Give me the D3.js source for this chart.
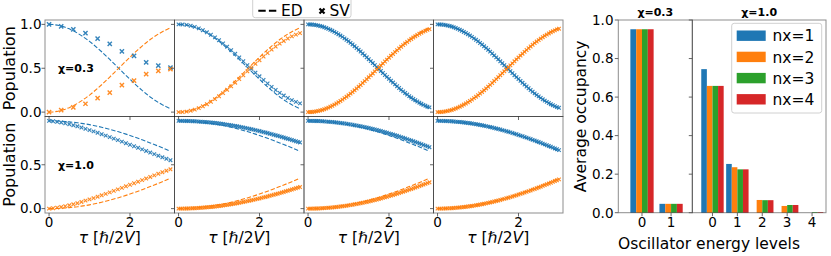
<!DOCTYPE html>
<html><head><meta charset="utf-8">
<script src="https://cdn.jsdelivr.net/npm/d3@7"></script>
<style>
body{margin:0;background:#fff}
text{font-family:"DejaVu Sans",sans-serif;fill:#000}
</style>
</head><body>
<svg id="c" width="831" height="256"></svg>
<script>
// ---------------- DATA ----------------
const tauCoarse = [0,0.3,0.6,0.9,1.2,1.5,1.8,2.1,2.4,2.7,3.0];
const tauMid = [0,0.1,0.2,0.3,0.4,0.5,0.6,0.7,0.8,0.9,1.0,1.1,1.2,1.3,1.4,1.5,1.6,1.7,1.8,1.9,2.0,2.1,2.2,2.3,2.4,2.5,2.6,2.7,2.8,2.9,3.0];
const tauFine = [0,0.05,0.1,0.15,0.2,0.25,0.3,0.35,0.4,0.45,0.5,0.55,0.6,0.65,0.7,0.75,0.8,0.85,0.9,0.95,1,1.05,1.1,1.15,1.2,1.25,1.3,1.35,1.4,1.45,1.5,1.55,1.6,1.65,1.7,1.75,1.8,1.85,1.9,1.95,2,2.05,2.1,2.15,2.2,2.25,2.3,2.35,2.4,2.45,2.5,2.55,2.6,2.65,2.7,2.75,2.8,2.85,2.9,2.95,3];

// chi = 0.3
const edBlue03 = [1.000,.998,.992,.981,.967,.949,.927,.901,.872,.840,.806,.769,.729,.688,.644,.600,.555,.509,.464,.418,.374,.330,.288,.247,.209,.173,.140,.110,.083,.060,.040];
const edOrange03 = [.000,.002,.008,.019,.033,.051,.073,.099,.128,.160,.194,.231,.271,.312,.356,.400,.445,.491,.536,.582,.626,.670,.712,.753,.791,.827,.860,.890,.917,.940,.960];
const sv1Blue03 = [1.000,.977,.943,.901,.837,.777,.693,.640,.568,.530,.508];
const sv1Orange03 = [.000,.023,.053,.095,.159,.223,.307,.360,.432,.470,.489];
const sv2Blue03 = [1.000,.999,.994,.984,.972,.955,.934,.910,.882,.852,.820,.784,.746,.707,.665,.623,.580,.536,.493,.449,.408,.366,.326,.288,.252,.219,.189,.161,.137,.117,.100];
const sv2Orange03 = [.000,.001,.006,.016,.028,.045,.066,.090,.118,.148,.180,.216,.254,.293,.335,.377,.420,.464,.507,.551,.592,.634,.674,.712,.748,.781,.811,.839,.863,.883,.900];
const sv3Blue03 = [1.000,.999,.998,.995,.992,.987,.981,.975,.967,.958,.949,.938,.928,.915,.902,.888,.873,.858,.841,.824,.808,.789,.771,.751,.731,.710,.691,.669,.647,.625,.603,.581,.559,.536,.513,.491,.469,.446,.423,.402,.380,.358,.337,.316,.295,.275,.255,.236,.218,.200,.182,.166,.150,.136,.121,.107,.095,.083,.073,.062,.054];
const sv3Orange03 = [.000,.001,.002,.005,.008,.013,.019,.025,.033,.042,.051,.062,.072,.085,.098,.112,.127,.142,.159,.176,.192,.211,.229,.249,.269,.290,.309,.331,.353,.375,.397,.419,.441,.464,.487,.509,.531,.554,.577,.598,.620,.642,.663,.684,.705,.725,.745,.764,.782,.800,.818,.834,.850,.864,.879,.893,.905,.917,.927,.938,.946];
const sv4Blue03 = [1.000,.999,.998,.995,.992,.987,.981,.975,.967,.958,.949,.938,.927,.914,.902,.888,.873,.858,.841,.824,.807,.788,.770,.750,.730,.710,.690,.668,.646,.624,.602,.579,.557,.535,.512,.489,.467,.444,.421,.399,.378,.356,.334,.313,.292,.272,.252,.233,.214,.196,.179,.162,.146,.131,.117,.103,.090,.079,.068,.057,.049];
const sv4Orange03 = [.000,.001,.002,.005,.008,.013,.019,.025,.033,.042,.051,.062,.073,.086,.098,.112,.127,.142,.159,.176,.193,.212,.230,.250,.270,.290,.310,.332,.354,.376,.398,.421,.443,.465,.488,.511,.533,.556,.579,.601,.622,.644,.666,.687,.708,.728,.748,.767,.786,.804,.821,.838,.854,.869,.883,.897,.910,.921,.932,.943,.951];

// chi = 1.0
const edBlue10 = [1.000,1.000,.998,.996,.993,.989,.984,.979,.972,.965,.957,.948,.938,.927,.916,.904,.891,.878,.864,.849,.834,.818,.801,.784,.767,.749,.731,.712,.693,.673,.653];
const edOrange10 = [.000,.000,.002,.004,.007,.011,.016,.021,.028,.035,.043,.052,.062,.073,.084,.096,.109,.122,.136,.151,.166,.182,.199,.216,.233,.251,.269,.288,.307,.327,.347];
const sv1Blue10 = [1.000,.996,.989,.982,.973,.962,.951,.938,.924,.909,.895,.880,.864,.848,.832,.815,.798,.781,.764,.746,.728,.711,.693,.675,.657,.639,.621,.603,.585,.568,.552];
const sv1Orange10 = [.000,.004,.011,.018,.027,.038,.049,.062,.076,.091,.105,.120,.136,.152,.168,.185,.202,.219,.236,.254,.272,.289,.307,.325,.343,.361,.379,.397,.415,.432,.448];
const sv2Blue10 = [1.000,1.000,1.000,.999,.999,.998,.997,.996,.995,.994,.992,.991,.989,.987,.985,.983,.981,.978,.976,.973,.970,.967,.964,.960,.957,.953,.950,.946,.942,.938,.933,.929,.924,.920,.915,.910,.905,.900,.895,.889,.884,.878,.872,.867,.861,.854,.849,.842,.836,.830,.823,.817,.810,.803,.796,.789,.782,.775,.768,.761,.754];
const sv2Orange10 = [.000,.000,.000,.001,.001,.002,.003,.004,.005,.006,.008,.009,.011,.013,.015,.017,.019,.022,.024,.027,.030,.033,.036,.040,.043,.047,.050,.054,.058,.062,.067,.071,.076,.080,.085,.090,.095,.100,.105,.111,.116,.122,.128,.133,.139,.146,.151,.158,.164,.170,.177,.183,.190,.197,.204,.211,.218,.225,.232,.239,.246];
const sv3Blue10 = [1.000,1.000,1.000,.999,.999,.998,.997,.995,.994,.992,.991,.989,.987,.984,.982,.979,.976,.973,.970,.967,.963,.959,.956,.951,.947,.943,.938,.934,.929,.924,.918,.913,.907,.902,.896,.890,.884,.878,.871,.865,.858,.851,.844,.837,.830,.822,.815,.807,.800,.792,.784,.776,.768,.760,.752,.743,.735,.726,.718,.709,.700];
const sv3Orange10 = [.000,.000,.000,.001,.001,.002,.003,.005,.006,.008,.009,.011,.013,.016,.018,.021,.024,.027,.030,.033,.037,.041,.044,.049,.053,.057,.062,.066,.071,.076,.082,.087,.093,.098,.104,.110,.116,.122,.129,.135,.142,.149,.156,.163,.170,.178,.185,.193,.200,.208,.216,.224,.232,.240,.248,.257,.265,.274,.282,.291,.300];
const sv4Blue10 = [1.000,1.000,1.000,.999,.998,.997,.996,.995,.993,.991,.989,.987,.985,.982,.979,.976,.973,.970,.966,.962,.958,.954,.950,.945,.940,.935,.930,.925,.919,.913,.908,.902,.895,.889,.882,.876,.869,.862,.855,.848,.840,.832,.825,.817,.809,.801,.793,.784,.776,.767,.759,.750,.741,.732,.723,.714,.705,.695,.686,.677,.667];
const sv4Orange10 = [.000,.000,.000,.001,.002,.003,.004,.005,.007,.009,.011,.013,.015,.018,.021,.024,.027,.030,.034,.038,.042,.046,.050,.055,.060,.065,.070,.075,.081,.087,.092,.098,.105,.111,.118,.124,.131,.138,.145,.152,.160,.168,.175,.183,.191,.199,.207,.216,.224,.233,.241,.250,.259,.268,.277,.286,.295,.305,.314,.323,.333];

const chiLabels = ["χ=0.3","χ=1.0"];
const popTicks = [0, 0.5, 1.0];
const tauTicks = [0, 2];

// bar chart data
const levels03 = [0,1];
const levels10 = [0,1,2,3,4];
const occ03nx1 = [0.952,0.046];
const occ03nx2 = [0.952,0.046];
const occ03nx3 = [0.952,0.046];
const occ03nx4 = [0.952,0.046];
const occ10nx1 = [0.745,0.253,0,0,0];
const occ10nx2 = [0.658,0.236,0.066,0.035,0];
const occ10nx3 = [0.658,0.225,0.065,0.040,0.003];
const occ10nx4 = [0.658,0.225,0.065,0.040,0.003];
const nxLabels = ["nx=1","nx=2","nx=3","nx=4"];
const occTicks = [0,0.2,0.4,0.6,0.8,1.0];

// ---------------- DRAW ----------------
const svg = d3.select("#c");
const C = {blue:"#1f77b4", orange:"#ff7f0e", green:"#2ca02c", red:"#d62728"};
const frameStroke = "rgba(0,0,0,0.45)";
const tickStroke = "#555";
const mk = s => `M${-s},${-s}L${s},${s}M${-s},${s}L${s},${-s}`;

const colX = [45, 174.5, 304, 433.5], panelW = 129.5;
const rowY = [20, 116.5], panelH = 96.5;

const svPanels = [
  [{t:tauCoarse,b:sv1Blue03,o:sv1Orange03},{t:tauMid,b:sv2Blue03,o:sv2Orange03},{t:tauFine,b:sv3Blue03,o:sv3Orange03},{t:tauFine,b:sv4Blue03,o:sv4Orange03}],
  [{t:tauMid,b:sv1Blue10,o:sv1Orange10},{t:tauFine,b:sv2Blue10,o:sv2Orange10},{t:tauFine,b:sv3Blue10,o:sv3Orange10},{t:tauFine,b:sv4Blue10,o:sv4Orange10}]
];
const edRows = [{b:edBlue03,o:edOrange03},{b:edBlue10,o:edOrange10}];

for (let r = 0; r < 2; r++) {
  const y = d3.scaleLinear().domain([-0.05, 1.05]).range([rowY[r]+panelH, rowY[r]]);
  for (let c = 0; c < 4; c++) {
    const x = d3.scaleLinear().domain([-0.1, 3.1]).range([colX[c], colX[c]+panelW]);
    const g = svg.append("g");
    // ED dashed lines
    [[edRows[r].b, C.blue],[edRows[r].o, C.orange]].forEach(([vals,col]) => {
      const line = d3.line().x((d,i)=>x(tauMid[i])).y(d=>y(d));
      g.append("path").attr("d", line(vals)).attr("fill","none")
        .attr("stroke", col).attr("stroke-width",1.1).attr("stroke-dasharray","4.4,1.9");
    });
    // SV markers
    const p = svPanels[r][c];
    const sz = c === 0 && r === 0 ? 2.1 : 1.8;
    const sw = c === 0 && r === 0 ? 1.4 : 1.15;
    [[p.b, C.blue],[p.o, C.orange]].forEach(([vals,col]) => {
      g.append("g").selectAll("path").data(d3.zip(p.t, vals)).join("path")
        .attr("d", mk(sz))
        .attr("transform", d => `translate(${x(d[0])},${y(d[1])})`)
        .attr("fill","none").attr("stroke", col).attr("stroke-width",sw).attr("stroke-opacity",0.9);
    });
    // frame
    g.append("rect").attr("x",colX[c]).attr("y",rowY[r]).attr("width",panelW).attr("height",panelH)
      .attr("fill","none").attr("stroke",frameStroke).attr("stroke-width",1);
    // y ticks
    const yt = r === 0 ? popTicks : popTicks.slice(0,2);
    yt.forEach(v => {
      g.append("line").attr("x1",colX[c]-3.5).attr("x2",colX[c]).attr("y1",y(v)).attr("y2",y(v))
        .attr("stroke",tickStroke).attr("stroke-width",0.9);
      if (c === 0) g.append("text").attr("x",colX[c]-3.5).attr("y",y(v)).attr("dy","0.36em")
        .attr("text-anchor","end").style("font-size","13.5px").text(d3.format(".1f")(v));
    });
    // x ticks
    tauTicks.forEach(v => {
      g.append("line").attr("x1",x(v)).attr("x2",x(v)).attr("y1",rowY[r]+panelH).attr("y2",rowY[r]+panelH+3.5)
        .attr("stroke",tickStroke).attr("stroke-width",0.9);
      if (r === 1) g.append("text").attr("x",x(v)).attr("y",227.3).attr("text-anchor","middle")
        .style("font-size","13.5px").text(v);
    });
    if (r === 1) {
      const t = g.append("text").attr("x", colX[c]+panelW/2).attr("y",243).attr("text-anchor","middle")
        .style("font-size","15.5px");
      t.append("tspan").style("font-style","italic").text("τ");
      t.append("tspan").text(" [ℏ/2");
      t.append("tspan").style("font-style","italic").text("V");
      t.append("tspan").text("]");
    }
    if (c === 0) {
      g.append("text").attr("x", colX[c]+13).attr("y", y(0.5)+4.2)
        .style("font-size","11px").style("font-weight","bold").text(chiLabels[r]);
      g.append("text").attr("transform",`translate(15,${rowY[r]+panelH/2}) rotate(-90)`)
        .attr("text-anchor","middle").style("font-size","16px").text("Population");
    }
  }
}

// top legend
const lg = svg.append("g");
lg.append("rect").attr("x",252.7).attr("y",-3).attr("width",98.3).attr("height",20.7).attr("rx",2.5)
  .attr("fill","#fff").attr("fill-opacity",0.85).attr("stroke","#d0d0d0");
lg.append("line").attr("x1",258.3).attr("x2",276.7).attr("y1",10.7).attr("y2",10.7)
  .attr("stroke","#000").attr("stroke-width",2).attr("stroke-dasharray","7.4,3.2");
lg.append("text").attr("x",281).attr("y",16.2).style("font-size","15.5px").text("ED");
lg.append("path").attr("d",mk(2.5)).attr("transform","translate(322,11)").attr("stroke","#000")
  .attr("stroke-width",2.2).attr("fill","none");
lg.append("text").attr("x",329.5).attr("y",16.2).style("font-size","15.5px").text("SV");

// ---------------- BAR CHART ----------------
const yB = d3.scaleLinear().domain([0,1]).range([212.7,20]);
const barCols = [C.blue, C.orange, C.green, C.red];
const subplots = [
  {x: d3.scaleLinear().domain([-0.815,1.73]).range([618.3,692.3]), levels: levels03,
   series:[occ03nx1,occ03nx2,occ03nx3,occ03nx4], bw:0.2, title: chiLabels[0]},
  {x: d3.scaleLinear().domain([-0.81,4.56]).range([692.3,826]), levels: levels10,
   series:[occ10nx1,occ10nx2,occ10nx3,occ10nx4], bw:0.225, title: chiLabels[1]}
];
subplots.forEach((sp, si) => {
  const g = svg.append("g");
  sp.series.forEach((vals, k) => {
    g.append("g").selectAll("rect").data(d3.zip(sp.levels, vals)).join("rect")
      .attr("x", d => sp.x(d[0] + (k-2)*sp.bw))
      .attr("width", d => sp.x(d[0] + (k-1)*sp.bw) - sp.x(d[0] + (k-2)*sp.bw))
      .attr("y", d => yB(d[1]))
      .attr("height", d => yB(0) - yB(d[1]))
      .attr("fill", barCols[k]);
  });
  const [x0,x1] = sp.x.range();
  g.append("rect").attr("x",x0).attr("y",20).attr("width",x1-x0).attr("height",192.7)
    .attr("fill","none").attr("stroke",frameStroke);
  occTicks.forEach(v => {
    g.append("line").attr("x1",x0-3.5).attr("x2",x0).attr("y1",yB(v)).attr("y2",yB(v))
      .attr("stroke",tickStroke).attr("stroke-width",0.9);
    if (si === 0) g.append("text").attr("x",613.5).attr("y",yB(v)).attr("dy","0.36em")
      .attr("text-anchor","end").style("font-size","13.5px").text(d3.format(".1f")(v));
  });
  sp.levels.forEach(v => {
    g.append("line").attr("x1",sp.x(v)).attr("x2",sp.x(v)).attr("y1",212.7).attr("y2",216.2)
      .attr("stroke",tickStroke).attr("stroke-width",0.9);
    g.append("text").attr("x",sp.x(v)).attr("y",227.3).attr("text-anchor","middle")
      .style("font-size","13.5px").text(v);
  });
  g.append("text").attr("x",(x0+x1)/2).attr("y",15.5).attr("text-anchor","middle")
    .style("font-size","11px").style("font-weight","bold").text(sp.title);
});
svg.append("text").attr("transform","translate(586,116.4) rotate(-90)").attr("text-anchor","middle")
  .style("font-size","15.5px").text("Average occupancy");
svg.append("text").attr("x",709).attr("y",248.5).attr("text-anchor","middle")
  .style("font-size","15.5px").text("Oscillator energy levels");

// bar legend
const bl = svg.append("g");
bl.append("rect").attr("x",731.7).attr("y",23.3).attr("width",90).attr("height",89.7).attr("rx",2.5)
  .attr("fill","#fff").attr("fill-opacity",0.85).attr("stroke","#d0d0d0");
nxLabels.forEach((lab,k) => {
  const cy = 35.7 + k*21.2;
  bl.append("rect").attr("x",736.7).attr("y",cy-5.2).attr("width",29).attr("height",10.4).attr("fill",barCols[k]);
  bl.append("text").attr("x",772.5).attr("y",cy+5.6).style("font-size","15.5px").text(lab);
});
</script>
</body></html>
